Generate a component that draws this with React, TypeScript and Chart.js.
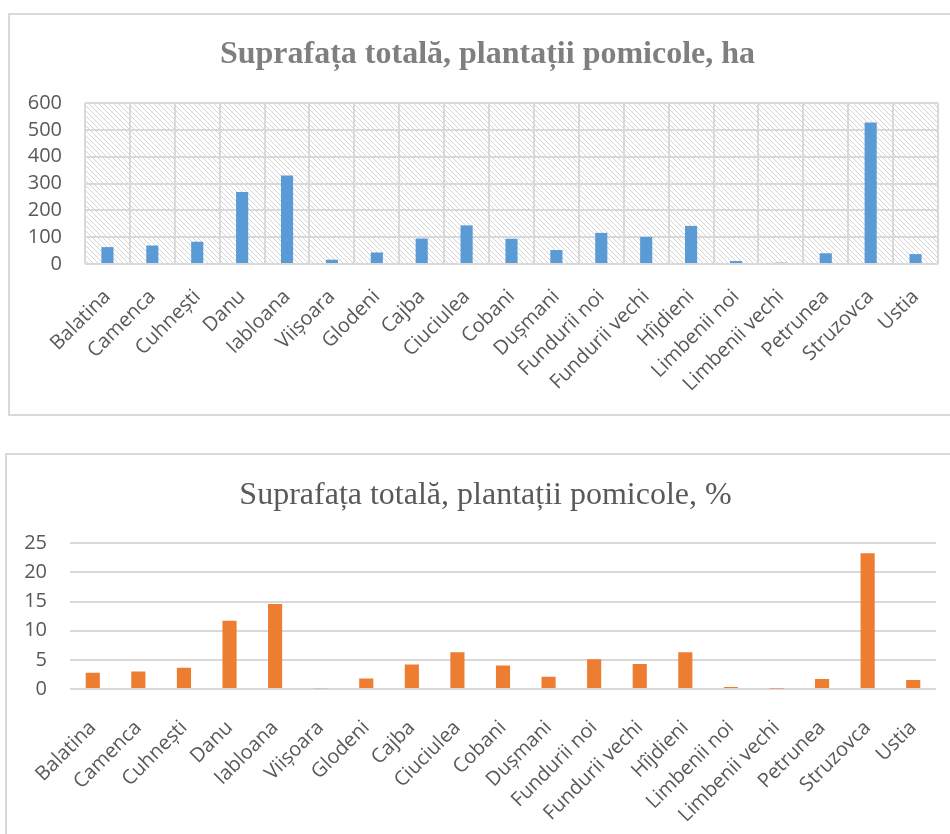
import React, { useEffect, useRef } from "react";
import { Chart, registerables } from "chart.js";

Chart.register(...registerables);

const categories = [
  "Balatina", "Camenca", "Cuhnești", "Danu", "Iabloana", "Viișoara", "Glodeni",
  "Cajba", "Ciuciulea", "Cobani", "Dușmani", "Fundurii noi", "Fundurii vechi",
  "Hîjdieni", "Limbenii noi", "Limbenii vechi", "Petrunea", "Struzovca", "Ustia",
];

const surfaceHa = [63, 69, 83, 268, 330, 16, 43, 95, 144, 94, 52, 116, 101, 142, 11, 5, 40, 527, 37];
const surfacePct = [2.8, 3.0, 3.65, 11.7, 14.6, 0.15, 1.8, 4.2, 6.3, 4.05, 2.1, 5.1, 4.3, 6.3, 0.35, 0.1, 1.7, 23.3, 1.55];

const haTickMax = 600;
const haTickStep = 100;
const pctTickMax = 25;
const pctTickStep = 5;

const titleHa = "Suprafața totală, plantații pomicole, ha";
const titlePct = "Suprafața totală, plantații pomicole, %";

const GRID = "#d9d9d9";
const TICK = "#595959";
const TICK_FONT = { family: "'Open Sans', sans-serif", size: 20 };
const SERIF = "'Liberation Serif', 'Times New Roman', serif";

function makeHatch(): CanvasPattern | string {
  const s = 5;
  const c = document.createElement("canvas");
  c.width = s;
  c.height = s;
  const g = c.getContext("2d");
  if (!g) return "#ffffff";
  g.fillStyle = "#ffffff";
  g.fillRect(0, 0, s, s);
  g.strokeStyle = "#d4d4d4";
  g.lineWidth = 1;
  for (const k of [-s, 0, s]) {
    g.beginPath();
    g.moveTo(k, 0);
    g.lineTo(k + s, s);
    g.stroke();
  }
  const p = g.createPattern(c, "repeat");
  return p || "#ffffff";
}

const hatchPlugin = {
  id: "hatchBg",
  beforeDraw(chart: any, _args: any, opts: any) {
    if (!opts || !opts.enabled) return;
    const { ctx, chartArea } = chart;
    ctx.save();
    ctx.fillStyle = makeHatch();
    ctx.fillRect(chartArea.left, chartArea.top, chartArea.right - chartArea.left, chartArea.bottom - chartArea.top);
    ctx.restore();
  },
};

// Title centred on the whole chart box (as in the spreadsheet chart)
const boxTitlePlugin = {
  id: "boxTitle",
  afterDraw(chart: any, _args: any, opts: any) {
    if (!opts || !opts.text) return;
    const { ctx } = chart;
    ctx.save();
    ctx.font = `${opts.weight || "normal"} ${opts.size}px ${SERIF}`;
    ctx.fillStyle = opts.color;
    ctx.textAlign = "center";
    ctx.textBaseline = "alphabetic";
    ctx.fillText(opts.text, chart.width / 2, opts.baseline);
    ctx.restore();
  },
};

export default function App() {
  const topRef = useRef<HTMLCanvasElement | null>(null);
  const botRef = useRef<HTMLCanvasElement | null>(null);

  useEffect(() => {
    document.body.style.overflow = "hidden";
    const charts: Chart[] = [];
    if (topRef.current) {
      charts.push(
        new Chart(topRef.current, {
          type: "bar",
          data: {
            labels: categories,
            datasets: [
              {
                data: surfaceHa,
                backgroundColor: "#5B9BD5",
                barPercentage: 0.27,
                categoryPercentage: 1,
              },
            ],
          },
          plugins: [hatchPlugin, boxTitlePlugin],
          options: {
            responsive: false,
            animation: false,
            layout: { padding: { left: 0, right: 27, top: 88, bottom: 0 } },
            plugins: {
              legend: { display: false },
              tooltip: { enabled: false },
              title: { display: false },
              hatchBg: { enabled: true },
              boxTitle: { text: titleHa, size: 32, weight: "bold", color: "#7f7f7f", baseline: 48 },
            } as any,
            scales: {
              x: {
                grid: { color: GRID, lineWidth: 2, drawTicks: false, offset: true },
                border: { display: false },
                ticks: { color: TICK, font: TICK_FONT, maxRotation: 45, minRotation: 45, padding: 21, autoSkip: false },
                afterFit: (s: any) => { s.height = 150; },
              },
              y: {
                min: 0,
                max: haTickMax,
                grid: { color: GRID, lineWidth: 2, drawTicks: false },
                border: { display: false },
                ticks: { stepSize: haTickStep, color: TICK, font: TICK_FONT, padding: 23, autoSkip: false },
                afterFit: (s: any) => { s.width = 75; },
              },
            },
          } as any,
        })
      );
    }
    if (botRef.current) {
      charts.push(
        new Chart(botRef.current, {
          type: "bar",
          data: {
            labels: categories,
            datasets: [
              {
                data: surfacePct,
                backgroundColor: "#ED7D31",
                barPercentage: 0.31,
                categoryPercentage: 1,
              },
            ],
          },
          plugins: [boxTitlePlugin],
          options: {
            responsive: false,
            animation: false,
            layout: { padding: { left: 0, right: 28, top: 88.3, bottom: 0 } },
            plugins: {
              legend: { display: false },
              tooltip: { enabled: false },
              title: { display: false },
              boxTitle: { text: titlePct, size: 32, weight: "normal", color: "#595959", baseline: 49 },
            } as any,
            scales: {
              x: {
                grid: { display: false },
                border: { display: false },
                ticks: { color: TICK, font: TICK_FONT, maxRotation: 45, minRotation: 45, padding: 19, autoSkip: false },
                afterFit: (s: any) => { s.height = 145; },
              },
              y: {
                min: 0,
                max: pctTickMax,
                grid: { color: GRID, lineWidth: 2, drawTicks: false },
                border: { display: false },
                ticks: { stepSize: pctTickStep, color: TICK, font: TICK_FONT, padding: 23, autoSkip: false },
                afterFit: (s: any) => { s.width = 63; },
              },
            },
          } as any,
        })
      );
    }
    return () => {
      charts.forEach((c) => c.destroy());
    };
  }, []);

  const boxBase: React.CSSProperties = {
    position: "absolute",
    boxSizing: "border-box",
    borderTop: `2px solid ${GRID}`,
    borderLeft: `2px solid ${GRID}`,
    background: "#ffffff",
  };

  return (
    <div>
      <div style={{ ...boxBase, left: 8, top: 13, width: 969, height: 403, borderBottom: `2px solid ${GRID}` }}>
        <canvas ref={topRef} width={955} height={399} style={{ position: "absolute", left: 0, top: 0 }} />
      </div>
      <div style={{ ...boxBase, left: 5, top: 453, width: 974, height: 381 }}>
        <canvas ref={botRef} width={957} height={379} style={{ position: "absolute", left: 0, top: 0 }} />
      </div>
    </div>
  );
}
